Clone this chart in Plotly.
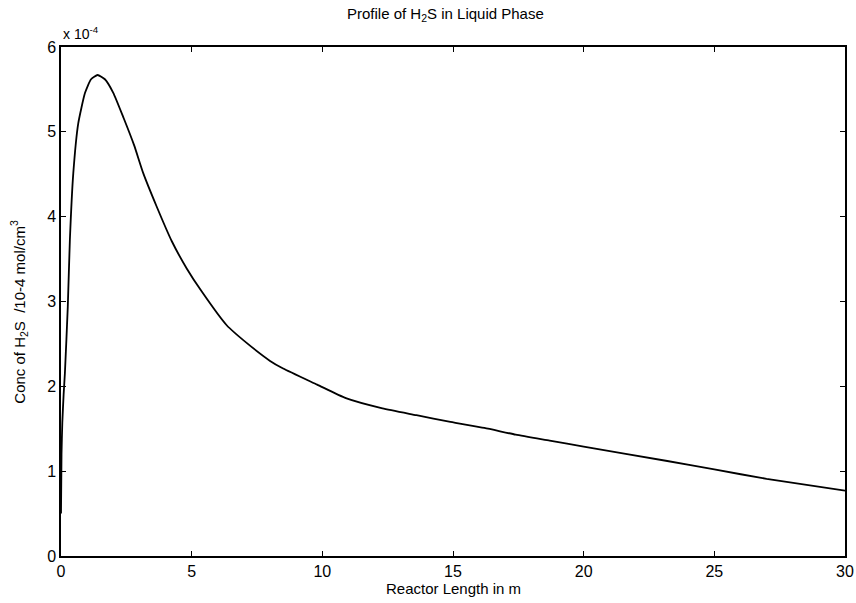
import plotly.graph_objects as go

# Reactor length (m) and liquid-phase H2S concentration (units of 1e-4 mol/cm^3)
reactor_length = [0.0, 0.02, 0.05, 0.10, 0.15, 0.26, 0.34, 0.47, 0.66, 0.92,
                  1.15, 1.40, 1.68, 2.00, 2.40, 2.80, 3.15, 3.66, 4.24, 4.81,
                  5.38, 6.34, 7.15, 8.00, 8.50, 9.80, 10.9, 12.3, 13.6, 14.9,
                  16.2, 17.4, 18.7, 20.0, 23.2, 25.0, 27.0, 30.0]
conc_h2s = [0.50, 1.20, 1.57, 1.90, 2.16, 2.94, 3.73, 4.51, 5.10, 5.46,
            5.62, 5.67, 5.62, 5.46, 5.16, 4.84, 4.51, 4.12, 3.71, 3.39,
            3.12, 2.72, 2.50, 2.30, 2.21, 2.02, 1.86, 1.74, 1.66, 1.58,
            1.51, 1.43, 1.36, 1.29, 1.12, 1.02, 0.91, 0.77]

x_ticks = [0, 5, 10, 15, 20, 25, 30]
y_ticks = [0, 1, 2, 3, 4, 5, 6]

font_family = "Liberation Sans Narrow, Liberation Sans, Arial, sans-serif"

fig = go.Figure()
fig.add_trace(go.Scatter(
    x=reactor_length, y=conc_h2s, mode="lines",
    line=dict(color="black", width=1.8, shape="spline", smoothing=0.5),
    showlegend=False, hoverinfo="skip",
))

axis_common = dict(
    showgrid=False, zeroline=False, showline=True, linecolor="black",
    linewidth=1.5, mirror="ticks", ticks="inside", ticklen=5,
    tickwidth=1.2, tickcolor="black", automargin=False,
    tickfont=dict(family=font_family, size=16, color="black"),
)

fig.update_xaxes(range=[0, 30], tickvals=x_ticks,
                 ticktext=[str(v) for v in x_ticks], **axis_common)
fig.update_yaxes(range=[0, 6], tickvals=y_ticks,
                 ticktext=[str(v) for v in y_ticks], **axis_common)

fig.update_layout(
    width=856, height=603,
    margin=dict(l=61, r=11, t=47, b=47),
    paper_bgcolor="white", plot_bgcolor="white",
    font=dict(family=font_family, color="black"),
    annotations=[
        dict(text="Profile of H<sub>2</sub>S in Liquid Phase",
             xref="paper", yref="paper", x=0.49, y=1, yshift=33,
             showarrow=False, xanchor="center", yanchor="middle",
             font=dict(size=15)),
        dict(text="Reactor Length in m",
             xref="paper", yref="paper", x=0.5, y=0, yshift=-32,
             showarrow=False, xanchor="center", yanchor="middle",
             font=dict(size=15)),
        dict(text="Conc of H<sub>2</sub>S  /10-4 mol/cm<sup>3</sup>",
             xref="paper", yref="paper", x=0, y=0.48, xshift=-42,
             textangle=-90, showarrow=False,
             xanchor="center", yanchor="middle", font=dict(size=15)),
        dict(text="x 10<sup>-4</sup>",
             xref="paper", yref="paper", x=0, y=1, yshift=14,
             showarrow=False, xanchor="left", yanchor="middle",
             font=dict(size=14)),
    ],
)

fig.write_html("out.html")
